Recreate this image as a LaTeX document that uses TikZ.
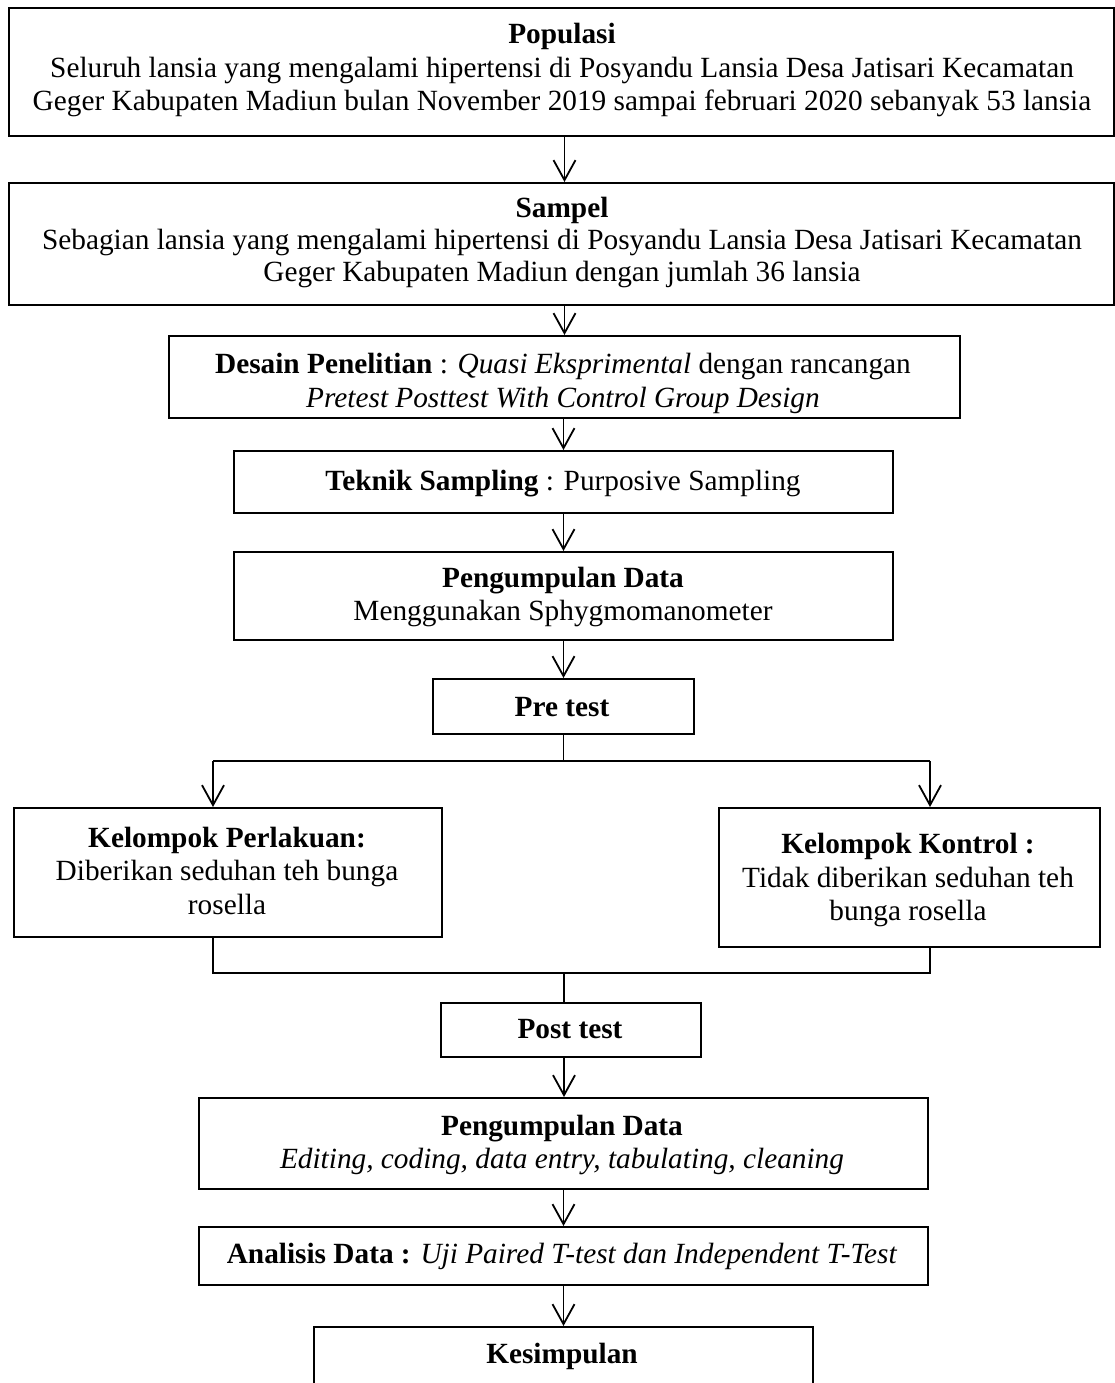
\documentclass[tikz,border=0pt]{standalone}
\usepackage{fontspec}
\setmainfont{Liberation Serif}
\usetikzlibrary{arrows.meta,calc}
\newcommand\fs{\fontsize{29.3}{33}\selectfont}
\begin{document}
\begin{tikzpicture}[x=1pt,y=-1pt,
  box/.style={draw, line width=2pt, inner sep=0pt, anchor=north west},
  txt/.style={anchor=base, inner sep=0pt, font=\fs},
  ln/.style={line width=1.8pt},
  arr/.style={line width=1.8pt, -{Straight Barb[length=20pt,width=22pt,line width=1.8pt]}}]
\clip (0,0) rectangle (1115,1383);
\fill[white] (0,0) rectangle (1115,1383);
% boxes
\node[box, minimum width=1105pt, minimum height=128pt] (pop) at (8,7) {};
\node[box, minimum width=1105pt, minimum height=122pt] (samp) at (8,182) {};
\node[box, minimum width=791pt, minimum height=82pt] (des) at (168,335) {};
\node[box, minimum width=659pt, minimum height=62pt] (tek) at (233,450) {};
\node[box, minimum width=659pt, minimum height=88pt] (pg1) at (233,551) {};
\node[box, minimum width=261pt, minimum height=55pt] (pre) at (432,678) {};
\node[box, minimum width=428pt, minimum height=129pt] (kp) at (13,807) {};
\node[box, minimum width=381pt, minimum height=139pt] (kk) at (718,807) {};
\node[box, minimum width=260pt, minimum height=54pt] (post) at (440,1002) {};
\node[box, minimum width=729pt, minimum height=91pt] (pg2) at (198,1097) {};
\node[box, minimum width=729pt, minimum height=58pt] (ana) at (198,1226) {};
\node[box, minimum width=499pt, minimum height=80pt] (kes) at (313,1326) {};
% texts
\node[txt] (pop1) at (562,44) {\textbf{Populasi}};
\node[txt] (pop2) at (562,78) {Seluruh lansia yang mengalami hipertensi di Posyandu Lansia Desa Jatisari Kecamatan};
\node[txt] (pop3) at (562,111) {Geger Kabupaten Madiun bulan November 2019 sampai februari 2020 sebanyak 53 lansia};
\node[txt] (samp1) at (562,217) {\textbf{Sampel}};
\node[txt] (samp2) at (562,249) {Sebagian lansia yang mengalami hipertensi di Posyandu Lansia Desa Jatisari Kecamatan};
\node[txt] (samp3) at (562,281) {Geger Kabupaten Madiun dengan jumlah 36 lansia};
\node[txt] (des1) at (563,373) {\textbf{Desain Penelitian} : \textit{Quasi Eksprimental} dengan rancangan};
\begin{scope}
\clip (des.north west) rectangle ($(des.south east)+(0,-6)$);
\node[txt] (des2) at (563,407) {\textit{Pretest Posttest With Control Group Design}};
\end{scope}
\node[txt] (tek1) at (563,490) {\textbf{Teknik Sampling} : Purposive Sampling};
\node[txt] (pg11) at (563,587) {\textbf{Pengumpulan Data}};
\node[txt] (pg12) at (563,620) {Menggunakan Sphygmomanometer};
\node[txt] (pre1) at (562,716) {\textbf{Pre test}};
\node[txt] (kp1) at (227,847) {\textbf{Kelompok Perlakuan:}};
\node[txt] (kp2) at (227,880) {Diberikan seduhan teh bunga};
\node[txt] (kp3) at (227,914) {rosella};
\node[txt] (kk1) at (908,853) {\textbf{Kelompok Kontrol :}};
\node[txt] (kk2) at (908,887) {Tidak diberikan seduhan teh};
\node[txt] (kk3) at (908,920) {bunga rosella};
\node[txt] (post1) at (570,1038) {\textbf{Post test}};
\node[txt] (pg21) at (562,1135) {\textbf{Pengumpulan Data}};
\node[txt] (pg22) at (562,1168) {\textit{Editing, coding, data entry, tabulating, cleaning}};
\node[txt] (ana1) at (562,1263) {\textbf{Analisis Data :} \textit{Uji Paired T-test dan Independent T-Test}};
\node[txt] (kes1) at (562,1363) {\textbf{Kesimpulan}};
% connectors
\coordinate (sl) at (213,761);
\coordinate (sr) at (930,761);
\coordinate (ml) at (213,973);
\coordinate (mr) at (930,973);
\coordinate (mm) at (564,973);
\draw[arr] (pop.south -| des.north) -- (samp.north -| des.north);
\draw[arr] (samp.south -| des.north) -- (des.north);
\draw[arr] (des.south -| tek.north) -- (tek.north);
\draw[arr] (tek.south) -- (pg1.north);
\draw[arr] (pg1.south) -- (pre.north);
\draw[ln] (pre.south) -- (pre.south |- sl);
\draw[ln] (sl) -- (sr);
\draw[arr] (sl) -- (sl |- kp.north);
\draw[arr] (sr) -- (sr |- kk.north);
\draw[ln] (ml |- kp.south) -- (ml) -- (mr) -- (mr |- kk.south);
\draw[ln] (mm) -- (mm |- post.north);
\draw[arr] (mm |- post.south) -- (mm |- pg2.north);
\draw[arr] (pg2.south) -- (ana.north);
\draw[arr] (ana.south) -- (kes.north);
\end{tikzpicture}
\end{document}
